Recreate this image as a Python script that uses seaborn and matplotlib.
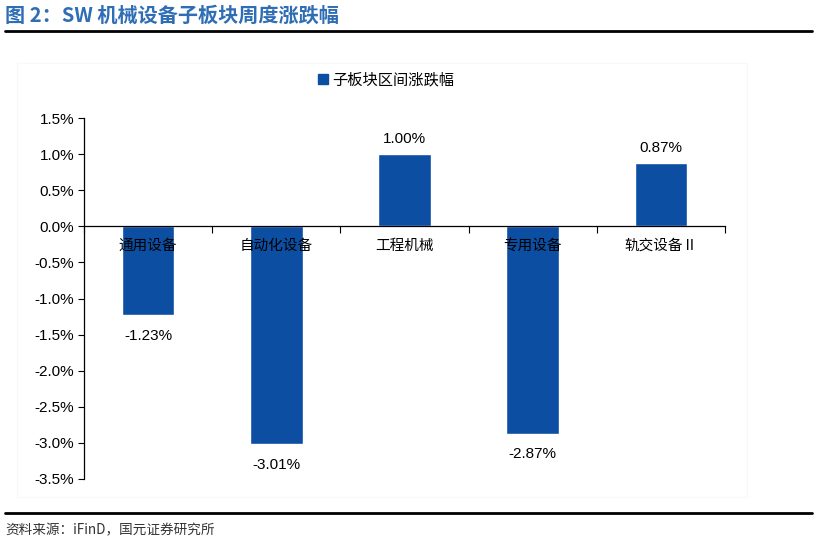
import matplotlib
matplotlib.use("Agg")
import matplotlib.pyplot as plt
import seaborn as sns
import pandas as pd
from matplotlib.lines import Line2D
from matplotlib.patches import Rectangle
from matplotlib.ticker import FuncFormatter, FixedLocator

# 数据
categories = ['通用设备', '自动化设备', '工程机械', '专用设备', '轨交设备Ⅱ']
changes = [-1.23, -3.01, 1.00, -2.87, 0.87]
legend_label = '子板块区间涨跌幅'
title_text = '图 2：SW 机械设备子板块周度涨跌幅'
source_text = '资料来源：iFinD，国元证券研究所'

bar_color = '#0B4EA2'
title_color = '#2F6EB5'

sns.set_theme(style='white')
plt.rcParams['font.family'] = ['Liberation Sans', 'Noto Sans CJK SC', 'DejaVu Sans']
plt.rcParams['text.color'] = 'black'
plt.rcParams['xtick.color'] = 'black'
plt.rcParams['ytick.color'] = 'black'
cjk = ['Noto Sans CJK SC', 'DejaVu Sans']

df = pd.DataFrame({'板块': categories, '涨跌幅': changes})

fig = plt.figure(figsize=(8.18, 5.42), dpi=100)
W, H = 818, 542
ax = fig.add_axes([84 / W, 1 - 479 / H, (725 - 84) / W, (479 - 118) / H])

sns.barplot(data=df, x='板块', y='涨跌幅', color=bar_color, width=0.41,
            saturation=1, ax=ax)

ax.set_xlim(-0.5, len(categories) - 0.5)
ax.set_ylim(-3.5, 1.5)
ax.set_yticks([1.5 - 0.5 * i for i in range(11)])
ax.yaxis.set_major_formatter(FuncFormatter(lambda v, p: f'{v:.1f}%'))
ax.tick_params(axis='y', direction='out', length=4, width=0.8, color='black',
               labelcolor='black', labelsize=11, pad=3, left=True)

# x轴放在0位置，刻度在类别之间
ax.spines['bottom'].set_position(('data', 0))
ax.spines['bottom'].set_color('black')
ax.spines['bottom'].set_linewidth(0.9)
ax.spines['left'].set_color('black')
ax.spines['left'].set_linewidth(0.9)
ax.spines['top'].set_visible(False)
ax.spines['right'].set_visible(False)
ax.xaxis.set_major_locator(FixedLocator([i - 0.5 for i in range(len(categories) + 1)]))
ax.set_xticklabels([])
ax.tick_params(axis='x', which='major', direction='out', length=5, width=0.8,
               color='black', bottom=True)
ax.set_xlabel('')
ax.set_ylabel('')

# 类别标签画在柱子上方
for i, name in enumerate(categories):
    ax.annotate(name, (i, 0), xytext=(0, -14), textcoords='offset points',
                ha='center', va='center', fontsize=10.5, family=cjk, color='black',
                zorder=10, annotation_clip=False)

# 数据标签
for i, v in enumerate(changes):
    if v >= 0:
        ax.annotate(f'{v:.2f}%', (i, v), xytext=(0, 6), textcoords='offset points',
                    ha='center', va='bottom', fontsize=11, color='black')
    else:
        ax.annotate(f'{v:.2f}%', (i, v), xytext=(0, -10), textcoords='offset points',
                    ha='center', va='top', fontsize=11, color='black')

# 图例
handle = Line2D([0], [0], marker='s', color='none', markerfacecolor=bar_color,
                markeredgecolor=bar_color, markersize=7)
fig.legend([handle], [legend_label], loc='center', bbox_to_anchor=(385 / W, 1 - 80 / H),
           frameon=False, prop={'family': cjk, 'size': 11}, handletextpad=0.1,
           handlelength=1.0)

# 标题、分隔线、来源
fig.text(5 / W, 1 - 15 / H, title_text, color=title_color, fontsize=14.5,
         fontweight='bold', ha='left', va='center', family=cjk)
fig.add_artist(Line2D([5 / W, 812 / W], [1 - 31 / H, 1 - 31 / H], color='black', lw=2))
fig.add_artist(Line2D([5 / W, 812 / W], [1 - 513 / H, 1 - 513 / H], color='black', lw=2))
fig.text(5 / W, 1 - 530 / H, source_text, color='#333333', fontsize=9.8,
         ha='left', va='center', family=cjk)
fig.add_artist(Rectangle((17 / W, 1 - 497 / H), (747 - 17) / W, (497 - 63) / H,
                         transform=fig.transFigure, fill=False, edgecolor='#f8f8f8', lw=0.8))

fig.savefig('out.png', dpi=100)
